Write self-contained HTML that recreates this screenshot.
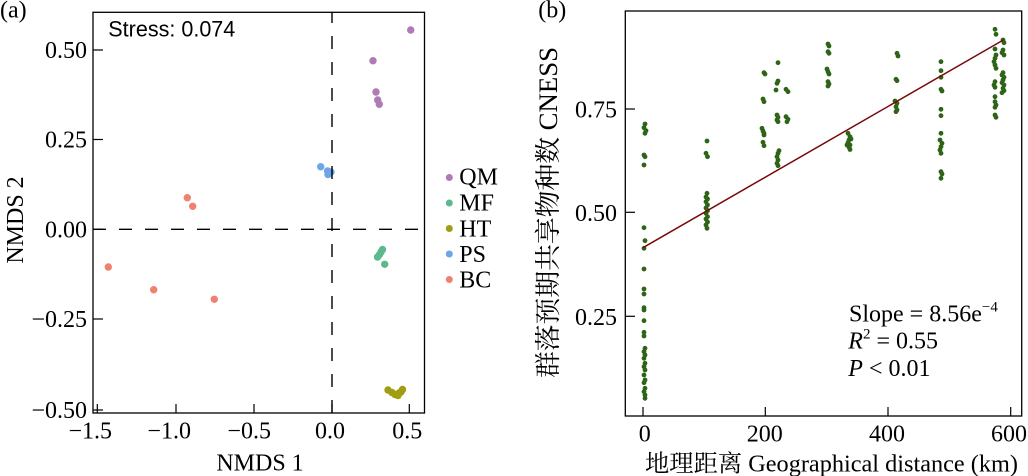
<!DOCTYPE html>
<html><head><meta charset="utf-8">
<style>
html,body{margin:0;padding:0;background:#fff;}
svg{display:block;}
.serif{font-family:"Liberation Serif","Noto Serif CJK SC",serif;}
.sans{font-family:"Liberation Sans",sans-serif;}
</style></head>
<body>
<svg width="1028" height="476" viewBox="0 0 1028 476" xmlns="http://www.w3.org/2000/svg">
<rect width="1028" height="476" fill="#fff"/>

<!-- ============ Panel (a) ============ -->
<text class="serif" x="0" y="17.4" font-size="24">(a)</text>

<!-- points -->
<g fill="#B07AB5">
<circle cx="410.7" cy="30" r="3.7"/><circle cx="373" cy="60.7" r="3.7"/><circle cx="376" cy="92" r="3.7"/><circle cx="377.7" cy="100" r="3.7"/><circle cx="379.3" cy="104.3" r="3.7"/>
</g>
<g fill="#6CA6E6">
<circle cx="320.7" cy="166.7" r="3.7"/><circle cx="327.5" cy="171" r="3.7"/><circle cx="329" cy="173.5" r="3.7"/><circle cx="331" cy="172" r="3.7"/><circle cx="328" cy="174.5" r="3.7"/>
</g>
<g fill="#F08070">
<circle cx="187.3" cy="197.7" r="3.7"/><circle cx="192.7" cy="206.3" r="3.7"/><circle cx="108.3" cy="267" r="3.7"/><circle cx="153.7" cy="289.7" r="3.7"/><circle cx="214.3" cy="299.3" r="3.7"/>
</g>
<g fill="#5DB88E">
<circle cx="382.5" cy="249.5" r="3.7"/><circle cx="381" cy="252" r="3.7"/><circle cx="379.5" cy="254.5" r="3.7"/><circle cx="377.5" cy="257" r="3.7"/><circle cx="384.7" cy="264.3" r="3.7"/>
</g>
<g fill="#A09D13">
<circle cx="388" cy="390" r="3.7"/><circle cx="392" cy="392.5" r="3.7"/><circle cx="395" cy="394.5" r="3.7"/><circle cx="398" cy="395.5" r="3.7"/><circle cx="401" cy="392" r="3.7"/><circle cx="402.5" cy="389.5" r="3.7"/><circle cx="399" cy="393" r="3.7"/>
</g>

<!-- dashed zero lines -->
<line x1="93" y1="229.3" x2="424" y2="229.3" stroke="#000" stroke-width="1.4" stroke-dasharray="13 13"/>
<line x1="332" y1="413" x2="332" y2="12" stroke="#000" stroke-width="1.4" stroke-dasharray="13 13"/>

<!-- frame -->
<rect x="93" y="12.3" width="331.5" height="400.7" fill="none" stroke="#000" stroke-width="1.3"/>

<!-- y ticks -->
<g stroke="#000" stroke-width="1.2">
<line x1="93" y1="50" x2="103" y2="50"/>
<line x1="93" y1="139.5" x2="103" y2="139.5"/>
<line x1="93" y1="229.3" x2="103" y2="229.3"/>
<line x1="93" y1="319" x2="103" y2="319"/>
<line x1="93" y1="410" x2="103" y2="410"/>
<!-- x ticks -->
<line x1="97.3" y1="413" x2="97.3" y2="404"/>
<line x1="176" y1="413" x2="176" y2="404"/>
<line x1="254" y1="413" x2="254" y2="404"/>
<line x1="332" y1="413" x2="332" y2="404"/>
<line x1="409.3" y1="413" x2="409.3" y2="404"/>
</g>

<g class="serif" font-size="24" fill="#000" text-anchor="end">
<text x="87" y="58">0.50</text>
<text x="87" y="147.5">0.25</text>
<text x="87" y="237.3">0.00</text>
<text x="87" y="327">−0.25</text>
<text x="87" y="418">−0.50</text>
</g>
<g class="serif" font-size="24" fill="#000" text-anchor="middle">
<text x="90.3" y="438.5">−1.5</text>
<text x="169.2" y="438.5">−1.0</text>
<text x="249.2" y="438.5">−0.5</text>
<text x="330" y="438.5">0.0</text>
<text x="407.3" y="438.5">0.5</text>
<text x="260" y="470.7">NMDS 1</text>
</g>
<text class="serif" font-size="24" text-anchor="middle" transform="translate(23,220) rotate(-90)">NMDS 2</text>

<text class="sans" x="108.3" y="36.7" font-size="22" textLength="127" lengthAdjust="spacingAndGlyphs">Stress: 0.074</text>

<!-- legend -->
<circle cx="449.3" cy="177.5" r="3.5" fill="#B07AB5"/>
<circle cx="449.3" cy="203" r="3.5" fill="#5DB88E"/>
<circle cx="449.3" cy="228.5" r="3.5" fill="#A09D13"/>
<circle cx="449.3" cy="254" r="3.5" fill="#6CA6E6"/>
<circle cx="449.3" cy="279.5" r="3.5" fill="#F08070"/>
<g class="serif" font-size="24" fill="#000">
<text x="459.3" y="184.5">QM</text>
<text x="459.3" y="210.5">MF</text>
<text x="459.3" y="236.5">HT</text>
<text x="459.3" y="262">PS</text>
<text x="459.3" y="287.5">BC</text>
</g>

<!-- ============ Panel (b) ============ -->
<text class="serif" x="538.3" y="17.4" font-size="24">(b)</text>

<g fill="#2E6417">
<!-- group 0 -->
<circle cx="645" cy="124" r="2.4"/><circle cx="644" cy="127.7" r="2.4"/><circle cx="646" cy="130.7" r="2.4"/><circle cx="645" cy="133.3" r="2.4"/><circle cx="644" cy="155" r="2.4"/><circle cx="645" cy="156.7" r="2.4"/><circle cx="644" cy="165" r="2.4"/><circle cx="644" cy="227.7" r="2.4"/><circle cx="645" cy="240.7" r="2.4"/><circle cx="644" cy="248.3" r="2.4"/><circle cx="644" cy="269" r="2.4"/><circle cx="644" cy="289" r="2.4"/><circle cx="644" cy="294" r="2.4"/><circle cx="644" cy="307.7" r="2.4"/><circle cx="644" cy="310" r="2.4"/><circle cx="644" cy="320.7" r="2.4"/><circle cx="644" cy="332.3" r="2.4"/><circle cx="644" cy="336" r="2.4"/><circle cx="645" cy="348.3" r="2.4"/><circle cx="644" cy="351.7" r="2.4"/><circle cx="645" cy="355" r="2.4"/><circle cx="644" cy="358.3" r="2.4"/><circle cx="645" cy="363.3" r="2.4"/><circle cx="644" cy="366.7" r="2.4"/><circle cx="645" cy="370" r="2.4"/><circle cx="644" cy="375" r="2.4"/><circle cx="645" cy="380" r="2.4"/><circle cx="644" cy="382.7" r="2.4"/><circle cx="645" cy="388.3" r="2.4"/><circle cx="644" cy="391.7" r="2.4"/><circle cx="645" cy="395" r="2.4"/><circle cx="645" cy="398.3" r="2.4"/>
<!-- group 105 -->
<circle cx="707" cy="141" r="2.4"/><circle cx="706" cy="153.3" r="2.4"/><circle cx="707.5" cy="156.7" r="2.4"/><circle cx="707" cy="193.3" r="2.4"/><circle cx="706" cy="197" r="2.4"/><circle cx="707.5" cy="199" r="2.4"/><circle cx="706" cy="201.7" r="2.4"/><circle cx="707.5" cy="205" r="2.4"/><circle cx="706" cy="208" r="2.4"/><circle cx="707.5" cy="210.7" r="2.4"/><circle cx="706" cy="213.3" r="2.4"/><circle cx="707.5" cy="216.7" r="2.4"/><circle cx="706" cy="219" r="2.4"/><circle cx="707.5" cy="222" r="2.4"/><circle cx="706" cy="225" r="2.4"/><circle cx="707" cy="228.3" r="2.4"/>
<!-- group 195 -->
<circle cx="764" cy="72.7" r="2.4"/><circle cx="765" cy="74" r="2.4"/><circle cx="763" cy="99" r="2.4"/><circle cx="764" cy="101.7" r="2.4"/><circle cx="762" cy="128.3" r="2.4"/><circle cx="763" cy="131" r="2.4"/><circle cx="764" cy="133.3" r="2.4"/><circle cx="764" cy="135" r="2.4"/><circle cx="763" cy="142.3" r="2.4"/><circle cx="764" cy="145.7" r="2.4"/>
<!-- group 230a -->
<circle cx="778" cy="62.7" r="2.4"/><circle cx="778" cy="81" r="2.4"/><circle cx="777" cy="83.3" r="2.4"/><circle cx="776" cy="90" r="2.4"/><circle cx="777" cy="115" r="2.4"/><circle cx="778" cy="117.3" r="2.4"/><circle cx="777" cy="120" r="2.4"/><circle cx="778" cy="121.7" r="2.4"/><circle cx="779" cy="150.7" r="2.4"/><circle cx="778" cy="153.3" r="2.4"/><circle cx="777" cy="156.7" r="2.4"/><circle cx="778" cy="160" r="2.4"/><circle cx="777" cy="163.3" r="2.4"/><circle cx="778" cy="165.7" r="2.4"/>
<!-- group 230b -->
<circle cx="786" cy="89.3" r="2.4"/><circle cx="788" cy="91.7" r="2.4"/><circle cx="786" cy="116.7" r="2.4"/><circle cx="788" cy="119.3" r="2.4"/><circle cx="787" cy="121.7" r="2.4"/>
<!-- group 300 -->
<circle cx="828" cy="44" r="2.4"/><circle cx="829" cy="46" r="2.4"/><circle cx="828" cy="51.7" r="2.4"/><circle cx="829" cy="53.3" r="2.4"/><circle cx="827" cy="69" r="2.4"/><circle cx="828" cy="71.7" r="2.4"/><circle cx="829" cy="74" r="2.4"/><circle cx="828" cy="81.7" r="2.4"/><circle cx="829" cy="84" r="2.4"/><circle cx="828" cy="86" r="2.4"/>
<!-- group 340 -->
<circle cx="848" cy="133.3" r="2.4"/><circle cx="850" cy="136.7" r="2.4"/><circle cx="849" cy="140" r="2.4"/><circle cx="848" cy="142.7" r="2.4"/><circle cx="850" cy="145" r="2.4"/><circle cx="849" cy="147.3" r="2.4"/><circle cx="851" cy="139" r="2.4"/><circle cx="847" cy="145" r="2.4"/><circle cx="850" cy="149.5" r="2.4"/>
<!-- group 415 -->
<circle cx="897" cy="53.3" r="2.4"/><circle cx="898" cy="56" r="2.4"/><circle cx="896" cy="79.3" r="2.4"/><circle cx="897" cy="80.7" r="2.4"/><circle cx="895" cy="101" r="2.4"/><circle cx="897" cy="103.3" r="2.4"/><circle cx="896" cy="106.7" r="2.4"/><circle cx="897" cy="110" r="2.4"/><circle cx="896" cy="111.7" r="2.4"/>
<!-- group 487 -->
<circle cx="941" cy="61.7" r="2.4"/><circle cx="941" cy="70.7" r="2.4"/><circle cx="941" cy="77.3" r="2.4"/><circle cx="941" cy="89.3" r="2.4"/><circle cx="942" cy="91" r="2.4"/><circle cx="941" cy="109.3" r="2.4"/><circle cx="941" cy="115.7" r="2.4"/><circle cx="941" cy="133.3" r="2.4"/><circle cx="940" cy="140" r="2.4"/><circle cx="942" cy="143.3" r="2.4"/><circle cx="941" cy="146.7" r="2.4"/><circle cx="940" cy="150" r="2.4"/><circle cx="941" cy="153.3" r="2.4"/><circle cx="941" cy="171.7" r="2.4"/><circle cx="942" cy="174" r="2.4"/><circle cx="941" cy="178.3" r="2.4"/>
<!-- group 575a -->
<circle cx="995" cy="29.3" r="2.4"/><circle cx="996" cy="34.3" r="2.4"/><circle cx="995" cy="49" r="2.4"/><circle cx="996" cy="55" r="2.4"/><circle cx="995" cy="58.3" r="2.4"/><circle cx="994" cy="61.7" r="2.4"/><circle cx="995" cy="65" r="2.4"/><circle cx="996" cy="68.3" r="2.4"/><circle cx="995" cy="81.7" r="2.4"/><circle cx="994" cy="85" r="2.4"/><circle cx="995" cy="87.3" r="2.4"/><circle cx="995" cy="96.7" r="2.4"/><circle cx="995" cy="101.7" r="2.4"/><circle cx="996" cy="105" r="2.4"/><circle cx="995" cy="107.3" r="2.4"/><circle cx="995" cy="115" r="2.4"/><circle cx="996" cy="117.3" r="2.4"/>
<!-- group 575b -->
<circle cx="1003" cy="40" r="2.4"/><circle cx="1004" cy="42.7" r="2.4"/><circle cx="1003" cy="50" r="2.4"/><circle cx="1002" cy="52.7" r="2.4"/><circle cx="1004" cy="55" r="2.4"/><circle cx="1003" cy="72.7" r="2.4"/><circle cx="1002" cy="75" r="2.4"/><circle cx="1004" cy="77.3" r="2.4"/><circle cx="1003" cy="80" r="2.4"/><circle cx="1002" cy="82.7" r="2.4"/><circle cx="1004" cy="85" r="2.4"/><circle cx="1003" cy="88.3" r="2.4"/><circle cx="1004" cy="90.7" r="2.4"/><circle cx="1002" cy="92.7" r="2.4"/>
</g>

<!-- regression line -->
<line x1="643" y1="247.7" x2="1003.3" y2="40" stroke="#7A0A0A" stroke-width="1.5"/>

<!-- frame -->
<rect x="625.3" y="11" width="396.4" height="405" fill="none" stroke="#000" stroke-width="1.3"/>

<g stroke="#000" stroke-width="1.2">
<line x1="625.3" y1="109" x2="635" y2="109"/>
<line x1="625.3" y1="212.3" x2="635" y2="212.3"/>
<line x1="625.3" y1="316.3" x2="635" y2="316.3"/>
<line x1="643" y1="416" x2="643" y2="407"/>
<line x1="765.3" y1="416" x2="765.3" y2="407"/>
<line x1="888" y1="416" x2="888" y2="407"/>
<line x1="1010.7" y1="416" x2="1010.7" y2="407"/>
</g>

<g class="serif" font-size="24" fill="#000" text-anchor="end">
<text x="617" y="117.5">0.75</text>
<text x="617" y="220.8">0.50</text>
<text x="617" y="324.8">0.25</text>
</g>
<g class="serif" font-size="24" fill="#000" text-anchor="middle">
<text x="644.7" y="441.5">0</text>
<text x="764.7" y="441.5">200</text>
<text x="887" y="441.5">400</text>
<text x="1009" y="441.5">600</text>
</g>
<text class="serif" x="645" y="471.5" font-size="24" textLength="373" lengthAdjust="spacingAndGlyphs">地理距离 Geographical distance (km)</text>
<text class="serif" font-size="26" transform="translate(557,378) rotate(-90)" textLength="331" lengthAdjust="spacingAndGlyphs">群落预期共享物种数 CNESS</text>

<g class="serif" font-size="24" fill="#000">
<text x="849" y="321.7">Slope = 8.56e<tspan font-size="15" dy="-10">−4</tspan></text>
<text x="848.3" y="348.3"><tspan font-style="italic">R</tspan><tspan font-size="15" dy="-10">2</tspan><tspan dy="10"> = 0.55</tspan></text>
<text x="848.3" y="376"><tspan font-style="italic">P</tspan> &lt; 0.01</text>
</g>
</svg>
</body></html>
